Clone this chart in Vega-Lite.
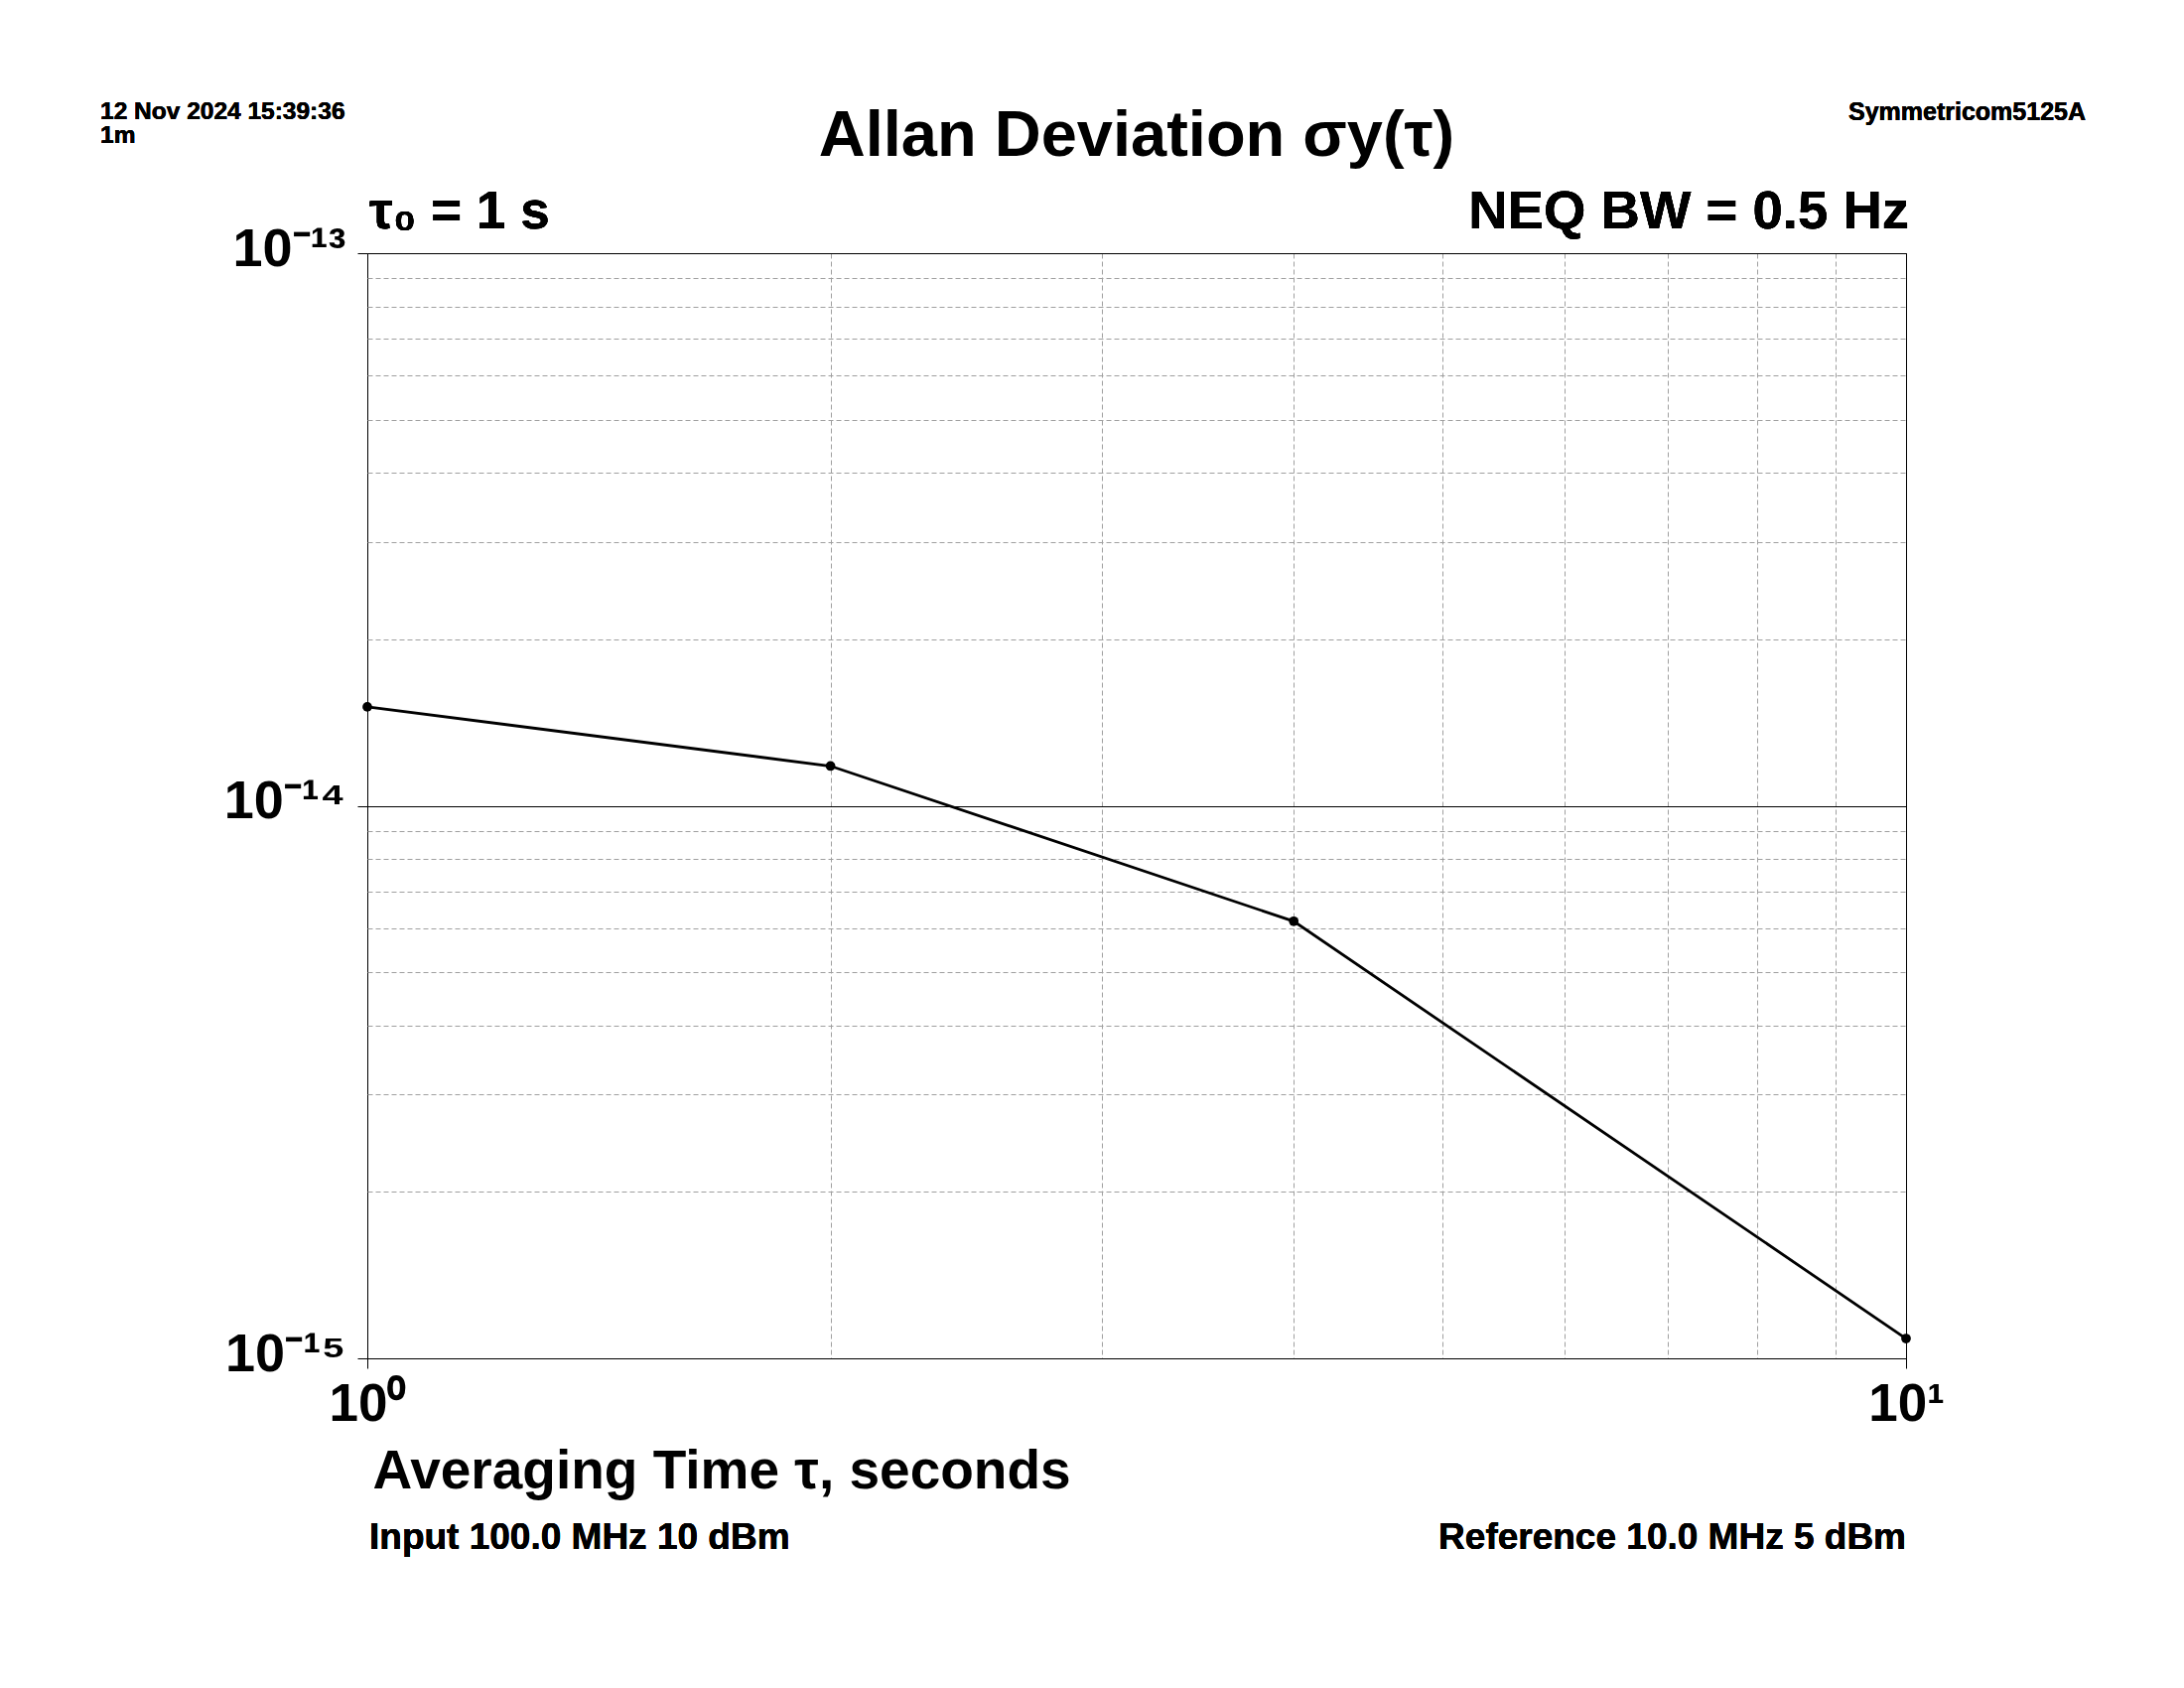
{
  "$schema": "https://vega.github.io/schema/vega-lite/v6.json",
  "width": 1550,
  "height": 1113,
  "autosize": {"type": "none"},
  "padding": {"left": 370, "top": 255, "right": 280, "bottom": 332},
  "background": "white",
  "config": {
    "view": {"stroke": "black", "strokeWidth": 1},
    "font": "Liberation Sans",
    "text": {"font": "Liberation Sans", "fontWeight": "bold", "color": "black"}
  },
  "title": {
    "text": "Allan Deviation σy(τ)",
    "font": "Liberation Sans",
    "fontSize": 65,
    "fontWeight": "bold",
    "color": "black",
    "anchor": "middle",
    "frame": "group",
    "baseline": "alphabetic",
    "offset": -122
  },
  "data": {
    "values": [
      {"tau": 1, "adev": 1.51e-14},
      {"tau": 2, "adev": 1.18e-14},
      {"tau": 4, "adev": 6.18e-15},
      {"tau": 10, "adev": 1.086e-15}
    ]
  },
  "encoding": {
    "x": {
      "field": "tau",
      "type": "quantitative",
      "scale": {"type": "log", "domain": [1, 10], "nice": false},
      "axis": {
        "values": [1, 2, 3, 4, 5, 6, 7, 8, 9, 10],
        "labelExpr": "datum.value == 1 ? '10⁰' : datum.value == 10 ? '10¹' : ''",
        "domain": false,
        "grid": true,
        "gridColor": {"condition": {"test": "datum.value == 1 || datum.value == 10", "value": "black"}, "value": "#a0a0a0"},
        "gridDash": {"condition": {"test": "datum.value == 1 || datum.value == 10", "value": []}, "value": [5, 3]},
        "gridWidth": 1,
        "ticks": true,
        "tickSize": 10,
        "tickColor": "black",
        "tickOpacity": {"condition": {"test": "datum.value == 1 || datum.value == 10", "value": 1}, "value": 0},
        "labelFlush": false,
        "labelOverlap": false,
        "labelBound": false,
        "labelFont": "Liberation Sans",
        "labelFontSize": 53,
        "labelFontWeight": "bold",
        "labelColor": "black",
        "labelPadding": 10,
        "title": "Averaging Time τ, seconds",
        "titleFont": "Liberation Sans",
        "titleFontSize": 55,
        "titleFontWeight": "bold",
        "titleColor": "black",
        "titleAnchor": "start",
        "titleAlign": "left",
        "titleBaseline": "alphabetic",
        "titleX": 5,
        "titleY": 130
      }
    },
    "y": {
      "field": "adev",
      "type": "quantitative",
      "scale": {"type": "log", "domain": [1e-15, 1e-13], "nice": false},
      "axis": {
        "values": [1e-15, 2e-15, 3e-15, 4e-15, 5e-15, 6e-15, 7e-15, 8e-15, 9e-15, 1e-14, 2e-14, 3e-14, 4e-14, 5e-14, 6e-14, 7e-14, 8e-14, 9e-14, 1e-13],
        "labelExpr": "datum.value == 1e-13 ? '10⁻¹³' : datum.value == 1e-14 ? '10⁻¹⁴' : datum.value == 1e-15 ? '10⁻¹⁵' : ''",
        "domain": false,
        "grid": true,
        "gridColor": {"condition": {"test": "datum.value == 1e-13 || datum.value == 1e-14 || datum.value == 1e-15", "value": "black"}, "value": "#a0a0a0"},
        "gridDash": {"condition": {"test": "datum.value == 1e-13 || datum.value == 1e-14 || datum.value == 1e-15", "value": []}, "value": [5, 3]},
        "gridWidth": 1,
        "ticks": true,
        "tickSize": 10,
        "tickColor": "black",
        "tickOpacity": {"condition": {"test": "datum.value == 1e-13 || datum.value == 1e-14 || datum.value == 1e-15", "value": 1}, "value": 0},
        "labelOverlap": false,
        "labelBound": false,
        "labelFlush": false,
        "labelFont": "Liberation Sans",
        "labelFontSize": 54,
        "labelFontWeight": "bold",
        "labelColor": "black",
        "labelPadding": 12,
        "labelBaseline": "middle",
        "labelOffset": -4,
        "title": null
      }
    }
  },
  "layer": [
    {
      "mark": {
        "type": "line",
        "color": "black",
        "strokeWidth": 2.8,
        "point": {"filled": true, "size": 95, "color": "black"}
      }
    },
    {
      "mark": {"type": "text", "text": ["12 Nov 2024 15:39:36", "1m"], "fontSize": 24.5, "lineHeight": 24, "align": "left", "baseline": "alphabetic", "dx": -269, "dy": -135},
      "encoding": {"x": {"datum": 1}, "y": {"datum": 1e-13}}
    },
    {
      "mark": {"type": "text", "text": "Symmetricom5125A", "fontSize": 25, "align": "right", "baseline": "alphabetic", "dx": 181, "dy": -134},
      "encoding": {"x": {"datum": 10}, "y": {"datum": 1e-13}}
    },
    {
      "mark": {"type": "text", "text": "τ₀ = 1 s", "fontSize": 53, "align": "left", "baseline": "alphabetic", "dx": 2, "dy": -25},
      "encoding": {"x": {"datum": 1}, "y": {"datum": 1e-13}}
    },
    {
      "mark": {"type": "text", "text": "NEQ BW = 0.5 Hz", "fontSize": 54.5, "align": "right", "baseline": "alphabetic", "dx": 3, "dy": -25},
      "encoding": {"x": {"datum": 10}, "y": {"datum": 1e-13}}
    },
    {
      "mark": {"type": "text", "text": "Input 100.0 MHz 10 dBm", "fontSize": 37, "align": "left", "baseline": "alphabetic", "dx": 2, "dy": 192},
      "encoding": {"x": {"datum": 1}, "y": {"datum": 1e-15}}
    },
    {
      "mark": {"type": "text", "text": "Reference 10.0 MHz 5 dBm", "fontSize": 37, "align": "right", "baseline": "alphabetic", "dx": 0, "dy": 192},
      "encoding": {"x": {"datum": 10}, "y": {"datum": 1e-15}}
    }
  ]
}
